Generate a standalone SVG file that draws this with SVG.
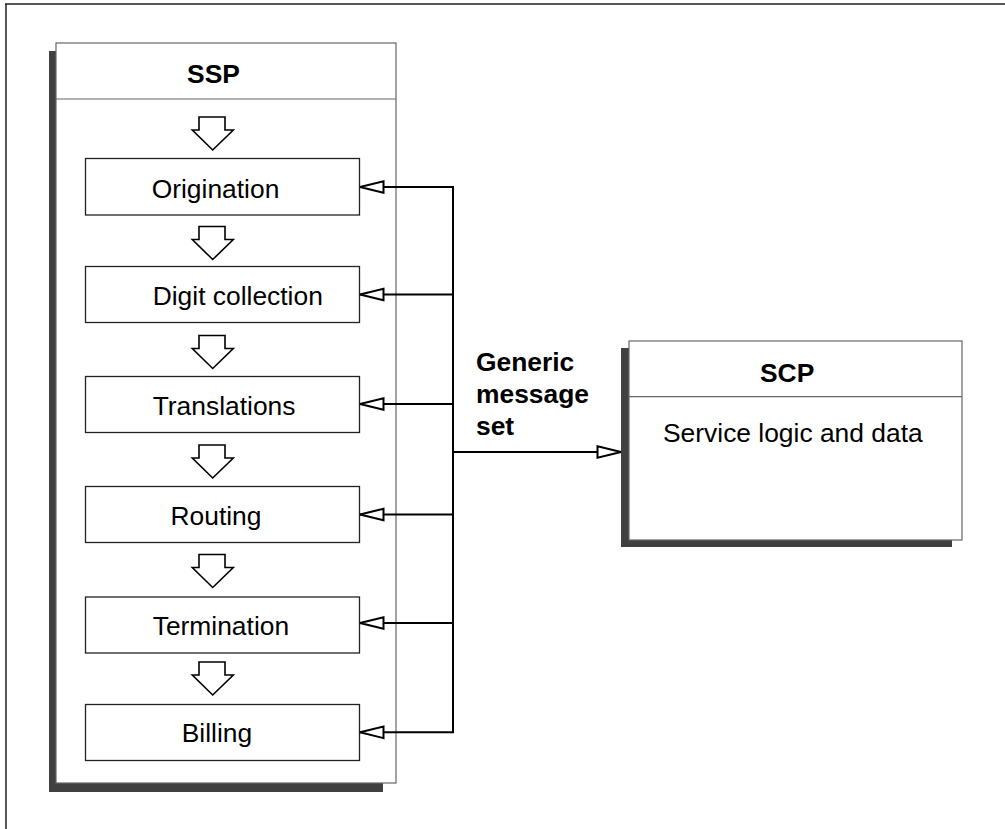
<svg xmlns="http://www.w3.org/2000/svg" xmlns:xlink="http://www.w3.org/1999/xlink" width="1005" height="829" viewBox="0 0 1005 829">
<style>
.frame{fill:none;stroke:#222;stroke-width:1.5}
.shadow{fill:#404040;stroke:none}
.outer{fill:#fff;stroke:#666;stroke-width:1.2}
.divider{stroke:#666;stroke-width:1.2}
.step{fill:#fff;stroke:#222;stroke-width:1.3}
.blk{fill:#fff;stroke:#000;stroke-width:1.6;stroke-linejoin:miter}
.t{font-family:"Liberation Sans",Arial,sans-serif;font-size:26.4px;fill:#000}
.b{font-weight:bold}
.conn{fill:none;stroke:#000;stroke-width:2}
</style>
<defs>
<marker id="oa" markerUnits="userSpaceOnUse" markerWidth="28" markerHeight="16" viewBox="0 0 28 16" refX="25" refY="8" orient="auto">
<path d="M1.5,2.2 L25,8 L1.5,13.8 Z" fill="#fff" stroke="#000" stroke-width="2"/>
</marker>
<path id="blk" d="M-13.7,0 H12.3 V13 H20.6 L0,33 L-20.4,13 H-13.7 Z"/>
</defs>
<rect width="1005" height="829" fill="#fff"/>
<path class="frame" d="M5,4 H1005 M6,4 V829"/>

<g id="ssp">
<rect class="shadow" x="49" y="51" width="334" height="741"/>
<rect class="outer" x="56" y="43" width="340" height="740"/>
<line class="divider" x1="56" y1="99" x2="396" y2="99"/>
<text class="t b" x="213.5" y="83.3" text-anchor="middle">SSP</text>
</g>

<g id="flow-arrows">
<use href="#blk" class="blk" x="212.7" y="117"/>
<use href="#blk" class="blk" x="212.7" y="226.5"/>
<use href="#blk" class="blk" x="212.7" y="335.5"/>
<use href="#blk" class="blk" x="212.7" y="445"/>
<use href="#blk" class="blk" x="212.7" y="554.5"/>
<use href="#blk" class="blk" x="212.7" y="662"/>
</g>

<g id="origination">
<rect class="step" x="85.5" y="158.5" width="274" height="56.5"/>
<text class="t" x="151.7" y="198.3">Origination</text>
</g>
<g id="digit-collection">
<rect class="step" x="85.5" y="266.5" width="274" height="56"/>
<text class="t" x="152.7" y="304.5">Digit collection</text>
</g>
<g id="translations">
<rect class="step" x="85.5" y="376.5" width="274" height="56"/>
<text class="t" x="152.7" y="415">Translations</text>
</g>
<g id="routing">
<rect class="step" x="85.5" y="486.5" width="274" height="56"/>
<text class="t" x="216" y="525" text-anchor="middle">Routing</text>
</g>
<g id="termination">
<rect class="step" x="85.5" y="597" width="274" height="56"/>
<text class="t" x="152.7" y="635">Termination</text>
</g>
<g id="billing">
<rect class="step" x="85.5" y="704.5" width="274" height="56"/>
<text class="t" x="181.7" y="741.7">Billing</text>
</g>

<g id="scp">
<rect class="shadow" x="621" y="348" width="331" height="199"/>
<rect class="outer" x="629" y="341" width="333" height="199"/>
<line class="divider" x1="629" y1="396.7" x2="962" y2="396.7"/>
<text class="t b" x="760" y="381.7">SCP</text>
<text class="t" x="663" y="441.7">Service logic and data</text>
</g>

<g id="connectors">
<line class="conn" x1="453" y1="186.5" x2="453" y2="733"/>
<line class="conn" x1="454" y1="187" x2="360" y2="187" marker-end="url(#oa)"/>
<line class="conn" x1="454" y1="294.5" x2="360" y2="294.5" marker-end="url(#oa)"/>
<line class="conn" x1="454" y1="404" x2="360" y2="404" marker-end="url(#oa)"/>
<line class="conn" x1="454" y1="514.5" x2="360" y2="514.5" marker-end="url(#oa)"/>
<line class="conn" x1="454" y1="623" x2="360" y2="623" marker-end="url(#oa)"/>
<line class="conn" x1="454" y1="732.3" x2="360" y2="732.3" marker-end="url(#oa)"/>
<line class="conn" x1="452" y1="452" x2="621" y2="452" marker-end="url(#oa)"/>
</g>

<g id="label-generic">
<text class="t b" x="476" y="371">Generic</text>
<text class="t b" x="476" y="403">message</text>
<text class="t b" x="476" y="435">set</text>
</g>
</svg>
